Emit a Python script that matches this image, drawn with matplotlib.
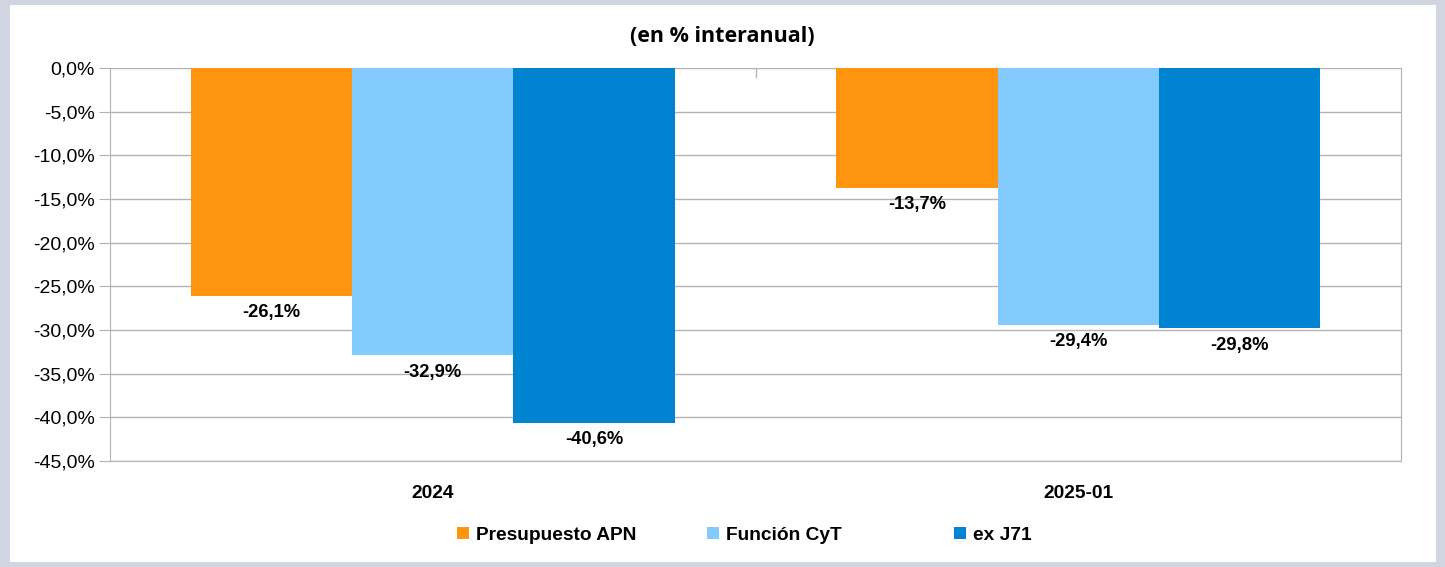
import numpy as np
import matplotlib.pyplot as plt
from matplotlib.patches import Rectangle

categories = ["2024", "2025-01"]
series = ["Presupuesto APN", "Función CyT", "ex J71"]
presupuesto_apn = [-26.1, -13.7]
funcion_cyt = [-32.9, -29.4]
ex_j71 = [-40.6, -29.8]
colors = ["#FF950E", "#83CAFF", "#0084D1"]

W, H = 1445, 567
fig = plt.figure(figsize=(W / 100, H / 100), dpi=100)
fig.patch.set_facecolor("#D0D5E1")
# white inner panel
fig.patches.append(Rectangle((10 / W, 5 / H), 1426 / W, 557 / H, transform=fig.transFigure,
                             facecolor="white", edgecolor="none", zorder=-1))

ax = fig.add_axes([110 / W, 1 - 461 / H, (1401 - 110) / W, (461 - 68) / H])
ax.set_facecolor("none")
ax.set_zorder(2)

x = np.arange(len(categories))
width = 0.25
values = [presupuesto_apn, funcion_cyt, ex_j71]
handles = []
for i, (name, vals) in enumerate(zip(series, values)):
    pos = x + (i - 1) * width
    b = ax.bar(pos, vals, width, color=colors[i], label=name, zorder=3)
    handles.append(b)
    for p, v in zip(pos, vals):
        ax.annotate(f"{v:.1f}%".replace(".", ","), (p, v), xytext=(0, -6),
                    textcoords="offset points", ha="center", va="top",
                    fontsize=13.2, fontweight="bold", family="Liberation Sans")

ax.set_xlim(-0.5, 1.5)
ax.set_ylim(-45, 0)
ticks = np.arange(-45, 0.1, 5)
ax.set_yticks(ticks)
ax.set_yticklabels([f"{t:.1f}%".replace(".", ",") for t in ticks],
                   fontsize=14, family="Liberation Sans")
ax.yaxis.grid(True, color="#B3B3B3", linewidth=1, zorder=0)
ax.tick_params(axis="y", length=8, color="#B3B3B3", pad=3)
ax.tick_params(axis="x", length=0, pad=17)
ax.set_xticks(x)
ax.set_xticklabels(categories, fontsize=13.8, fontweight="bold", family="Liberation Sans")
for s in ["left", "right", "bottom"]:
    ax.spines[s].set_color("#B3B3B3")
ax.spines["top"].set_visible(False)
# category divider tick at the zero line
ax.plot([0.5, 0.5], [0, -1.0], color="#B3B3B3", linewidth=1, zorder=2)

fig.text(0.5, 1 - 36 / H, "(en % interanual)", ha="center", va="center",
         fontsize=15.5, fontweight="bold", family="Open Sans")

# legend entries placed like the original (fixed column starts)
leg_x = [457, 707, 954]
for hx, h, name in zip(leg_x, handles, series):
    fig.legend([h], [name], loc="center left", bbox_to_anchor=(hx / W, 1 - 535 / H),
               frameon=False, borderaxespad=0, borderpad=0,
               prop={"family": "Liberation Sans", "weight": "bold", "size": 13.8},
               handlelength=0.62, handleheight=0.62, handletextpad=0.35)

fig.savefig("out.png", dpi=100, facecolor=fig.get_facecolor())
